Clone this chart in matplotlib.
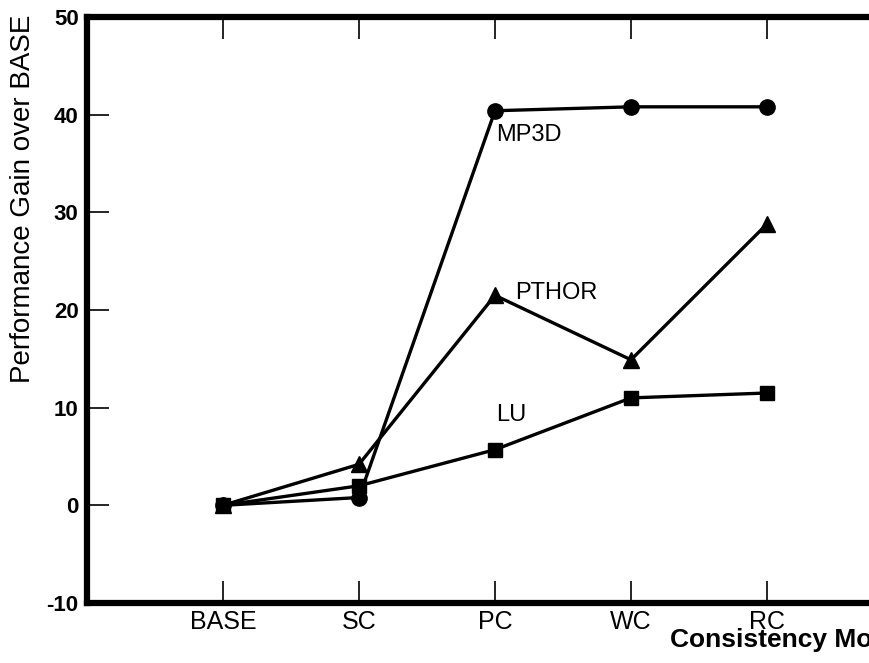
import matplotlib.pyplot as plt

plt.rcParams['font.family'] = ['Liberation Sans', 'DejaVu Sans']
plt.rcParams['axes.unicode_minus'] = False

modelos = ['BASE', 'SC', 'PC', 'WC', 'RC']
mp3d = [0, 0.8, 40.4, 40.8, 40.8]
pthor = [0, 4.2, 21.5, 14.9, 28.8]
lu = [0, 2.0, 5.7, 11.0, 11.5]

x = list(range(1, len(modelos) + 1))

fig = plt.figure(figsize=(8.69, 6.63), dpi=100)
ax = fig.add_axes([0.1001, 0.0905, 0.8999, 0.8839])

ax.plot(x, mp3d, color='black', lw=2.4, marker='o', ms=11, clip_on=False)
ax.plot(x, pthor, color='black', lw=2.4, marker='^', ms=11, clip_on=False)
ax.plot(x, lu, color='black', lw=2.4, marker='s', ms=10, clip_on=False)

ax.text(3.01, 37.9, 'MP3D', fontsize=17, va='center', ha='left')
ax.text(3.15, 21.7, 'PTHOR', fontsize=17, va='center', ha='left')
ax.text(3.01, 9.2, 'LU', fontsize=17, va='center', ha='left')

ax.set_xlim(0, 5.75)
ax.set_ylim(-10, 50)
ax.set_xticks(x)
ax.set_xticklabels(modelos)
ax.set_yticks([-10, 0, 10, 20, 30, 40, 50])

for s in ['left', 'top', 'bottom']:
    ax.spines[s].set_linewidth(4.5)
ax.spines['right'].set_visible(False)

ax.tick_params(axis='x', direction='in', length=16, width=1.2, top=True,
               labelsize=18, pad=5)
ax.tick_params(axis='y', direction='in', length=16, width=1.2,
               labelsize=16, pad=6)
for t in ax.get_yticklabels():
    t.set_fontweight('bold')

fig.text(0.027, 0.70, 'Performance Gain over BASE', rotation=90,
         ha='center', va='center', fontsize=20)
# la etiqueta queda cortada en el borde derecho, igual que en el original
fig.text(0.771, 0.034, 'Consistency Model', fontsize=19, fontweight='bold',
         ha='left', va='center')

fig.savefig('out.png', dpi=100)
